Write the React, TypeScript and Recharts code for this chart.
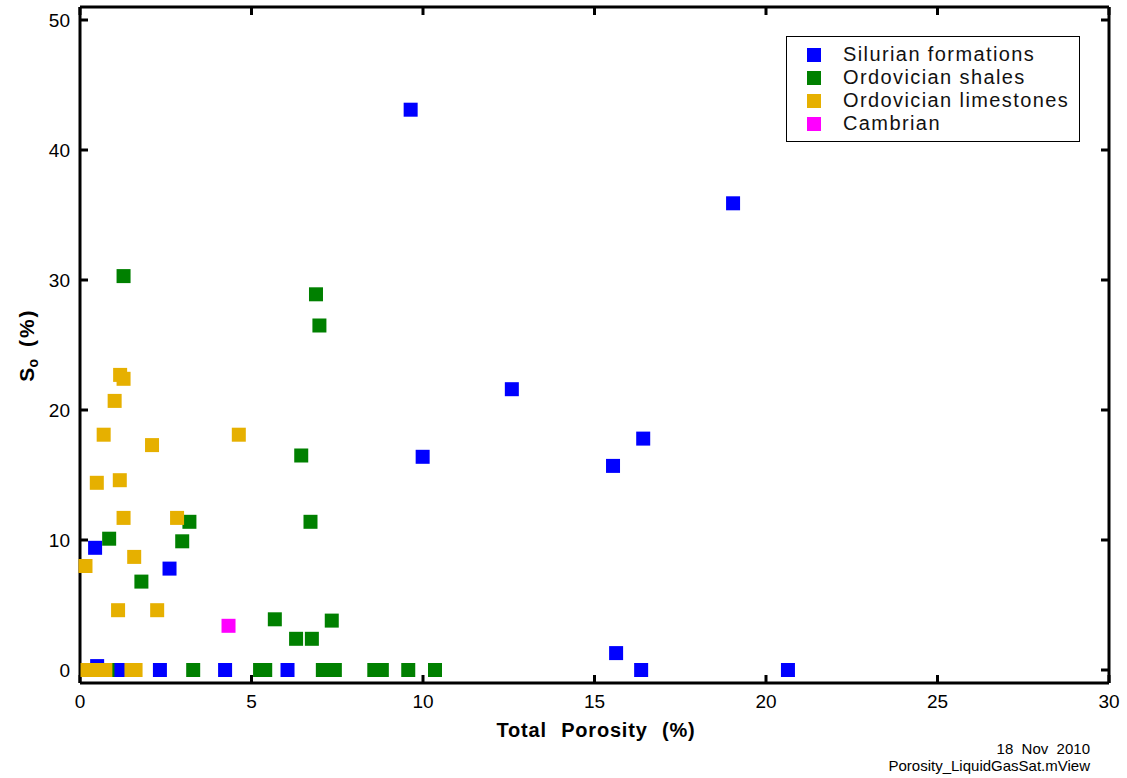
import React from "react";
import {
  ScatterChart,
  Scatter,
  XAxis,
  YAxis,
  Legend,
  ReferenceLine,
} from "recharts";

// Silurian formations
const silurianPhi = [9.64, 19.04, 12.59, 9.99, 15.54, 16.42, 15.63, 16.36, 20.64, 0.44, 2.61, 0.5, 1.15, 2.33, 4.23, 6.05];
const silurianSo = [43.1, 35.9, 21.6, 16.4, 15.7, 17.8, 1.3, 0, 0, 9.4, 7.8, 0.3, 0, 0, 0, 0];

// Ordovician shales
const shalePhi = [1.27, 6.88, 6.98, 6.45, 3.19, 6.72, 0.85, 2.98, 1.79, 5.68, 7.34, 6.3, 6.76, 0.8, 3.3, 5.25, 5.4, 7.08, 7.43, 8.58, 8.8, 9.57, 10.35];
const shaleSo = [30.3, 28.9, 26.5, 16.5, 11.4, 11.4, 10.1, 9.9, 6.8, 3.9, 3.8, 2.4, 2.4, 0, 0, 0, 0, 0, 0, 0, 0, 0, 0];

// Ordovician limestones
const limePhi = [1.17, 1.27, 1.01, 0.69, 4.63, 2.1, 0.49, 1.16, 1.27, 2.83, 1.58, 0.16, 1.11, 2.25, 0.22, 0.4, 0.58, 0.74, 1.5, 1.62];
const limeSo = [22.7, 22.4, 20.7, 18.1, 18.1, 17.3, 14.4, 14.6, 11.7, 11.7, 8.7, 8.0, 4.6, 4.6, 0, 0, 0, 0, 0, 0];

// Cambrian
const cambrianPhi = [4.33];
const cambrianSo = [3.4];

const xTicks = [0, 5, 10, 15, 20, 25, 30];
const yTicks = [0, 10, 20, 30, 40, 50];
const xDomain = [0, 30];
const yDomain = [-1, 51];

const seriesNames = ["Silurian formations", "Ordovician shales", "Ordovician limestones", "Cambrian"];
const seriesColors = ["#0000ff", "#008000", "#e6b000", "#ff00ff"];

const toPoints = (xs: number[], ys: number[]) => xs.map((x, i) => ({ x, y: ys[i] }));

const series = [
  toPoints(silurianPhi, silurianSo),
  toPoints(shalePhi, shaleSo),
  toPoints(limePhi, limeSo),
  toPoints(cambrianPhi, cambrianSo),
];

const FONT = "'Liberation Sans', Arial, sans-serif";
const TICK_LEN = 8;
const axisStyle = { stroke: "#000", strokeWidth: 3 };

const square = (color: string) => (props: any) =>
  <rect x={props.cx - 7} y={props.cy - 7} width={14} height={14} fill={color} />;

// inward tick marks at both ends of a reference line spanning the plot
const VTicks = (p: any) => {
  const top = Math.min(p.y1, p.y2);
  const bottom = Math.max(p.y1, p.y2);
  return (
    <g stroke="#000" strokeWidth={3}>
      <line x1={p.x1} x2={p.x1} y1={top} y2={top + TICK_LEN} />
      <line x1={p.x1} x2={p.x1} y1={bottom} y2={bottom - TICK_LEN} />
    </g>
  );
};
const HTicks = (p: any) => {
  const left = Math.min(p.x1, p.x2);
  const right = Math.max(p.x1, p.x2);
  return (
    <g stroke="#000" strokeWidth={3}>
      <line x1={left} x2={left + TICK_LEN} y1={p.y1} y2={p.y1} />
      <line x1={right} x2={right - TICK_LEN} y1={p.y1} y2={p.y1} />
    </g>
  );
};

function LegendBox() {
  return (
    <div
      style={{
        border: "1px solid #000",
        background: "#fff",
        padding: "6px 0 6px 20px",
        fontFamily: FONT,
        fontSize: 20,
        letterSpacing: 1.4,
        color: "#111",
        boxSizing: "border-box",
        width: 294,
        height: 106,
      }}
    >
      {seriesNames.map((name, i) => (
        <div key={name} style={{ display: "flex", alignItems: "center", height: 23 }}>
          <span style={{ width: 14, height: 14, background: seriesColors[i], marginRight: 22 }} />
          <span style={{ lineHeight: "23px" }}>{name}</span>
        </div>
      ))}
    </div>
  );
}

const YLabel = () => (
  <text
    x={34}
    y={345}
    transform="rotate(-90, 34, 345)"
    textAnchor="middle"
    fontFamily={FONT}
    fontWeight="bold"
    fontSize={21}
    fill="#000"
  >
    S<tspan fontSize={14} dy={4}>o</tspan>
    <tspan dy={-4} dx={12} letterSpacing={2}>(%)</tspan>
  </text>
);

const XLabel = () => (
  <text
    x={596}
    y={737}
    textAnchor="middle"
    fontFamily={FONT}
    fontWeight="bold"
    fontSize={20}
    wordSpacing={8}
    letterSpacing={0.8}
    fill="#000"
  >
    Total Porosity (%)
  </text>
);

export default function App() {
  return (
    <div style={{ position: "absolute", left: 0, top: 0, width: 1127, height: 778, background: "#fff" }}>
      <ScatterChart width={1127} height={778} margin={{ top: 7, right: 18, bottom: 55, left: 30 }}>
        <XAxis
          dataKey="x"
          type="number"
          domain={xDomain}
          ticks={xTicks}
          height={40}
          tickMargin={6}
          axisLine={axisStyle}
          tickLine={false}
          tick={{ fill: "#000", fontSize: 19, fontFamily: FONT }}
          label={<XLabel />}
        />
        <YAxis
          dataKey="y"
          type="number"
          domain={yDomain}
          ticks={yTicks}
          width={50}
          tickMargin={4}
          axisLine={axisStyle}
          tickLine={false}
          tick={{ fill: "#000", fontSize: 19, fontFamily: FONT }}
          label={<YLabel />}
        />
        <ReferenceLine y={yDomain[1]} stroke="#000" strokeWidth={3} />
        <ReferenceLine x={xDomain[1]} stroke="#000" strokeWidth={3} />
        {xTicks.map((t) => (
          <ReferenceLine key={"xt" + t} x={t} shape={<VTicks />} />
        ))}
        {yTicks.map((t) => (
          <ReferenceLine key={"yt" + t} y={t} shape={<HTicks />} />
        ))}
        {series.map((pts, i) => (
          <Scatter
            key={seriesNames[i]}
            name={seriesNames[i]}
            data={pts}
            fill={seriesColors[i]}
            shape={square(seriesColors[i])}
            isAnimationActive={false}
          />
        ))}
        <Legend
          layout="horizontal"
          verticalAlign="middle"
          align="center"
          content={<LegendBox />}
          wrapperStyle={{ top: 36, left: 786, width: 294 }}
        />
      </ScatterChart>
      <div
        style={{
          position: "absolute",
          right: 37,
          top: 740,
          textAlign: "right",
          fontFamily: FONT,
          fontSize: 15,
          lineHeight: "17px",
          color: "#000",
        }}
      >
        <div>18&nbsp;&nbsp;Nov&nbsp;&nbsp;2010</div>
        <div>Porosity_LiquidGasSat.mView</div>
      </div>
    </div>
  );
}
